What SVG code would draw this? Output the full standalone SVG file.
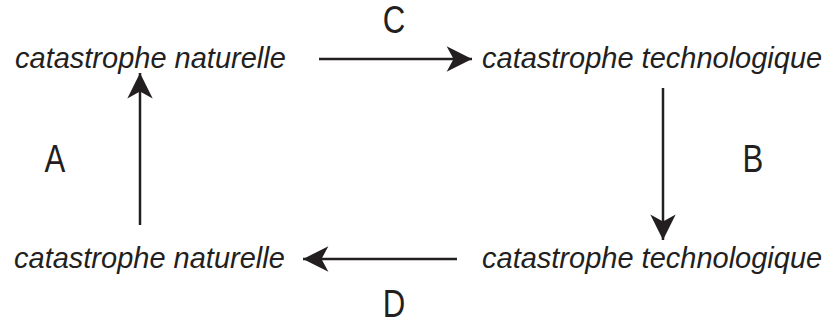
<svg xmlns="http://www.w3.org/2000/svg" width="833" height="320" viewBox="0 0 833 320">
<style>
.t{font-family:"Liberation Sans",Arial,sans-serif;font-size:29px;font-style:italic;fill:#231f20}
.l{font-family:"Liberation Sans",Arial,sans-serif;font-size:39px;fill:#231f20}
.c{stroke:#231f20;stroke-width:2.5;fill:none;marker-end:url(#ah)}
</style>
<defs>
<marker id="ah" markerUnits="userSpaceOnUse" markerWidth="30" markerHeight="30" viewBox="-24 -12 26 24" refX="0" refY="0" orient="auto" overflow="visible">
<path d="M0,0 L-22,-11 L-16,0 L-22,11 Z" fill="#231f20"/>
</marker>
</defs>
<g id="n1"><text class="t" x="15" y="68">catastrophe naturelle</text></g>
<g id="n2"><text class="t" x="482" y="68">catastrophe technologique</text></g>
<g id="n3"><text class="t" x="482" y="268">catastrophe technologique</text></g>
<g id="n4"><text class="t" x="14" y="268">catastrophe naturelle</text></g>
<g id="connectors">
<line class="c" x1="319" y1="59" x2="472" y2="59"/>
<line class="c" x1="663" y1="88" x2="663" y2="240"/>
<line class="c" x1="457" y1="259" x2="303" y2="259"/>
<line class="c" x1="140" y1="225" x2="140" y2="73"/>
</g>
<g id="labels">
<text class="l" text-anchor="middle" transform="translate(394,33) scale(0.8,1)">C</text>
<text class="l" text-anchor="middle" transform="translate(753,172) scale(0.8,1)">B</text>
<text class="l" text-anchor="middle" transform="translate(394,317) scale(0.8,1)">D</text>
<text class="l" text-anchor="middle" transform="translate(55,172) scale(0.8,1)">A</text>
</g>
</svg>
